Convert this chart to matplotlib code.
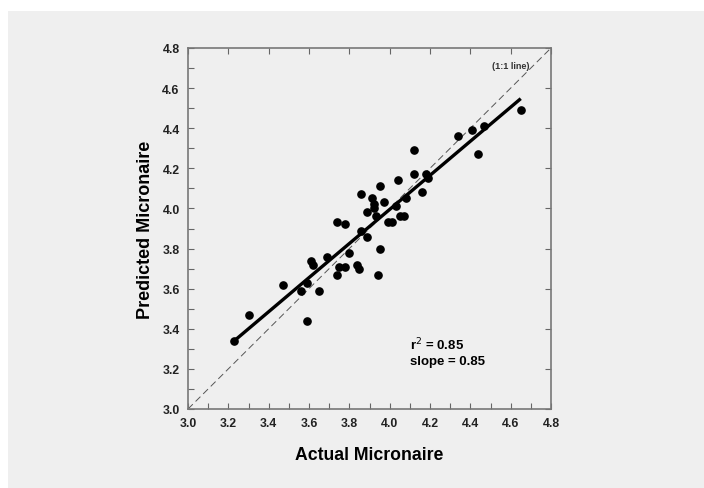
import numpy as np
import matplotlib.pyplot as plt
from matplotlib.patches import Rectangle
from matplotlib.ticker import MultipleLocator, FormatStrFormatter

plt.rcParams['font.family'] = ['Liberation Sans', 'DejaVu Sans']

# actual vs predicted micronaire
actual = [3.23, 3.30, 3.47, 3.56, 3.59, 3.59, 3.61, 3.62, 3.65, 3.69,
          3.74, 3.74, 3.75, 3.78, 3.78, 3.80, 3.84, 3.85, 3.86, 3.86,
          3.89, 3.89, 3.91, 3.92, 3.92, 3.93, 3.95, 3.95, 3.94, 3.97,
          3.99, 4.01, 4.03, 4.04, 4.05, 4.07, 4.08, 4.12, 4.12, 4.16,
          4.18, 4.19, 4.34, 4.41, 4.44, 4.47, 4.65]
predicted = [3.34, 3.47, 3.62, 3.59, 3.63, 3.44, 3.74, 3.72, 3.59, 3.76,
             3.93, 3.67, 3.71, 3.92, 3.71, 3.78, 3.72, 3.70, 4.07, 3.89,
             3.98, 3.86, 4.05, 4.02, 4.00, 3.96, 4.11, 3.80, 3.67, 4.03,
             3.93, 3.93, 4.01, 4.14, 3.96, 3.96, 4.05, 4.29, 4.17, 4.08,
             4.17, 4.15, 4.36, 4.39, 4.27, 4.41, 4.49]

fit_slope = 0.85
fit_intercept = 0.595
r2 = 0.85

fig = plt.figure(figsize=(7.04, 4.89), dpi=100, facecolor='#efefef')
# thin white strips along the top and left edge
fig.add_artist(Rectangle((0, 1 - 12 / 489), 1, 12 / 489, transform=fig.transFigure,
                         facecolor='white', edgecolor='none', zorder=-10))
fig.add_artist(Rectangle((0, 0), 8 / 704, 1, transform=fig.transFigure,
                         facecolor='white', edgecolor='none', zorder=-10))
ax = fig.add_axes([188 / 704, 79 / 489, 363 / 704, 361 / 489])
ax.set_facecolor('#efefef')

# 1:1 line
ax.plot([3.0, 4.8], [3.0, 4.8], color='#555555', lw=0.7, dashes=(7, 4))
ax.text(4.695, 4.711, '(1:1 line)', ha='right', va='center', fontsize=6.5,
        fontweight='bold', color='#333333')

# regression line
xf = np.array([min(actual), max(actual)])
ax.plot(xf, fit_intercept + fit_slope * xf, color='black', lw=2.4, solid_capstyle='butt')

ax.plot(actual, predicted, 'o', color='black', ms=5.2, mec='black')

ax.text(4.10, 3.324, 'r$^2$ = %.2f' % r2, fontsize=9.5, fontweight='bold', va='center')
ax.text(4.10, 3.241, 'slope = %.2f' % fit_slope, fontsize=9.5, fontweight='bold', va='center')

ax.set_xlim(3.0, 4.8)
ax.set_ylim(3.0, 4.8)
for a in (ax.xaxis, ax.yaxis):
    a.set_major_locator(MultipleLocator(0.2))
    a.set_minor_locator(MultipleLocator(0.1))
    a.set_major_formatter(FormatStrFormatter('%.1f'))

ax.tick_params(which='both', direction='in', length=4, width=0.8, color='#666666',
               labelsize=8.8, pad=6)
ax.tick_params(which='major', top=True, right=True)
ax.tick_params(which='minor', top=False, right=False)
for lab in ax.get_xticklabels() + ax.get_yticklabels():
    lab.set_fontweight('bold')
    lab.set_color('#222222')

for s in ax.spines.values():
    s.set_color('#777777')
    s.set_linewidth(1.2)

ax.set_xlabel('Actual Micronaire', fontsize=12.7, fontweight='bold', labelpad=12)
ax.set_ylabel('Predicted Micronaire', fontsize=13, fontweight='bold', labelpad=6)

fig.savefig('out.png', dpi=100, facecolor=fig.get_facecolor())
